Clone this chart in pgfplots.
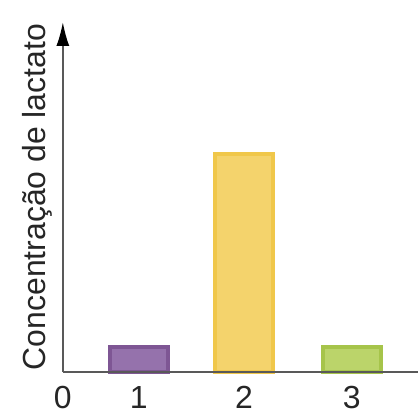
\documentclass[border=0pt]{standalone}
\usepackage{pgfplots}
\pgfplotsset{compat=1.18}
\usepackage{fontspec}
\setmainfont{Liberation Sans}
\usetikzlibrary{arrows.meta}
\definecolor{purpB}{HTML}{7E5694}
\definecolor{purpF}{HTML}{9572AC}
\definecolor{yelB}{HTML}{F0C74A}
\definecolor{yelF}{HTML}{F4D36C}
\definecolor{grnB}{HTML}{A6C44A}
\definecolor{grnF}{HTML}{BBD46A}
\begin{document}
\begin{tikzpicture}
\begin{axis}[
  scale only axis,
  width=356pt, height=351pt,
  xmin=63, xmax=419, ymin=0, ymax=351,
  axis on top,
  clip=false,
  axis x line=bottom,
  axis y line=left,
  x axis line style={-, line width=2pt, black!65},
  y axis line style={-{Latex[length=24pt,width=13pt,black]}, line width=2pt, black!65},
  xtick={63,139,244.5,352.5},
  xticklabels={0,1,2,3},
  ytick=\empty,
  major tick length=0pt,
  /pgf/number format/assume math mode=true,
  xticklabel style={font=\fontsize{32}{34}\selectfont, anchor=north, inner sep=0pt, yshift=-14pt, text=black!85},
  ylabel={Concentração de lactato},
  ylabel style={at={(axis description cs:-0.028,0.5)}, anchor=south, rotate=0, inner sep=0pt, font=\fontsize{32}{34}\selectfont, text=black!85},
  ybar, bar width=58, bar shift=0pt,
]
\addplot[draw=purpB, fill=purpF, line width=4pt] coordinates {(139,25)};
\addplot[draw=yelB, fill=yelF, line width=4pt] coordinates {(244.5,219)};
\addplot[draw=grnB, fill=grnF, line width=4pt] coordinates {(352.5,25)};
\path (axis cs:63,0) ++(-63pt,-43pt) rectangle ++(419pt,416pt);
\end{axis}
\end{tikzpicture}
\end{document}
